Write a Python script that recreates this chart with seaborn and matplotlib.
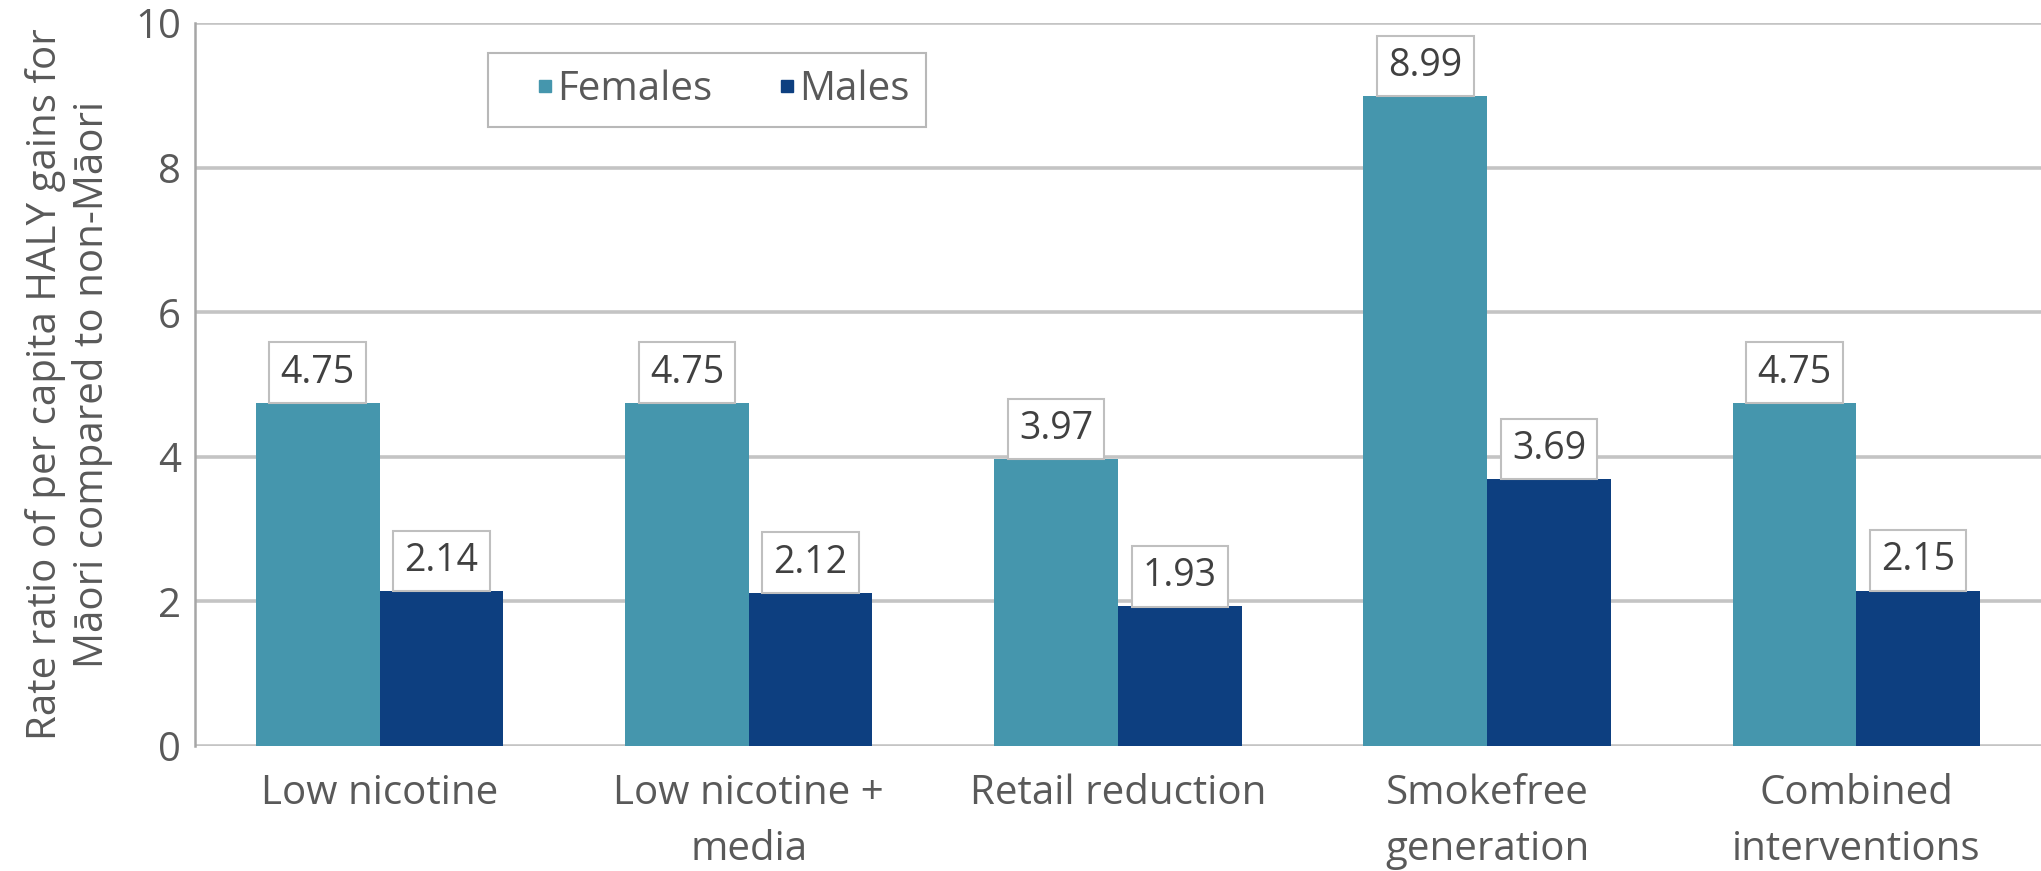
import matplotlib
matplotlib.use("Agg")
import matplotlib.pyplot as plt
import seaborn as sns
import pandas as pd
from matplotlib.lines import Line2D

# Data
categories = ["Low nicotine", "Low nicotine +\nmedia", "Retail reduction",
              "Smokefree\ngeneration", "Combined\ninterventions"]
females = [4.75, 4.75, 3.97, 8.99, 4.75]
males = [2.14, 2.12, 1.93, 3.69, 2.15]
series = ["Females", "Males"]
y_ticks = [0, 2, 4, 6, 8, 10]

df = pd.DataFrame({
    "Intervention": categories * 2,
    "Rate ratio": females + males,
    "Sex": [series[0]] * len(categories) + [series[1]] * len(categories),
})

teal = "#4596AD"
navy = "#0D3F80"
text_grey = "#595959"
grid_grey = "#C4C4C4"

sns.set_theme(style="white")
plt.rcParams["font.family"] = ["Open Sans", "DejaVu Sans"]

fig = plt.figure(figsize=(20.41, 8.71), dpi=100)
ax = fig.add_axes([0.0955, 0.1435, 0.9045, 0.830])

sns.barplot(data=df, x="Intervention", y="Rate ratio", hue="Sex",
            palette=[teal, navy], width=0.67, gap=0, saturation=1,
            edgecolor="none", linewidth=0, ax=ax, legend=False, zorder=3)

ax.set_xlim(-0.5, 4.5)
ax.set_ylim(0, 10)
ax.set_yticks(y_ticks)
ax.set_yticklabels([str(t) for t in y_ticks])
ax.yaxis.grid(True, color=grid_grey, lw=2.6, zorder=0)
ax.set_axisbelow(True)

for side in ["top", "right", "bottom"]:
    ax.spines[side].set_visible(False)
ax.spines["left"].set_color("#A6A6A6")
ax.spines["left"].set_linewidth(1.8)

ax.tick_params(axis="both", length=0, colors=text_grey, labelsize=29)
ax.tick_params(axis="x", pad=20)
ax.tick_params(axis="y", pad=10)
for lbl in ax.get_xticklabels():
    lbl.set_linespacing(1.5)
ax.set_xlabel("")
ax.set_ylabel("Rate ratio of per capita HALY gains for\nMāori compared to non-Māori",
              fontsize=29, color=text_grey, labelpad=16, linespacing=1.2)

# Boxed value labels sitting on top of each bar
for container in ax.containers:
    for bar in container:
        h = bar.get_height()
        ax.annotate(f"{h:.2f}", (bar.get_x() + bar.get_width() / 2, h),
                    xytext=(0, 8), textcoords="offset points",
                    ha="center", va="bottom", fontsize=27, color="#404040",
                    zorder=4,
                    bbox=dict(boxstyle="square,pad=0.3", fc="white",
                              ec="#BFBFBF", lw=1.5))

handles = [Line2D([0], [0], marker="s", linestyle="none", markersize=9,
                  markerfacecolor=c, markeredgecolor=c) for c in (teal, navy)]
leg = ax.legend(handles, series, loc="upper left",
                bbox_to_anchor=(0.1587, 0.9585), borderaxespad=0, ncol=2,
                frameon=True, fancybox=False, edgecolor="#A6A6A6",
                fontsize=29, handlelength=2.0, handletextpad=-0.7,
                columnspacing=0.85, borderpad=0.42)
leg.get_frame().set_linewidth(1.5)
for t in leg.get_texts():
    t.set_color(text_grey)

fig.savefig("out.png", dpi=100)
